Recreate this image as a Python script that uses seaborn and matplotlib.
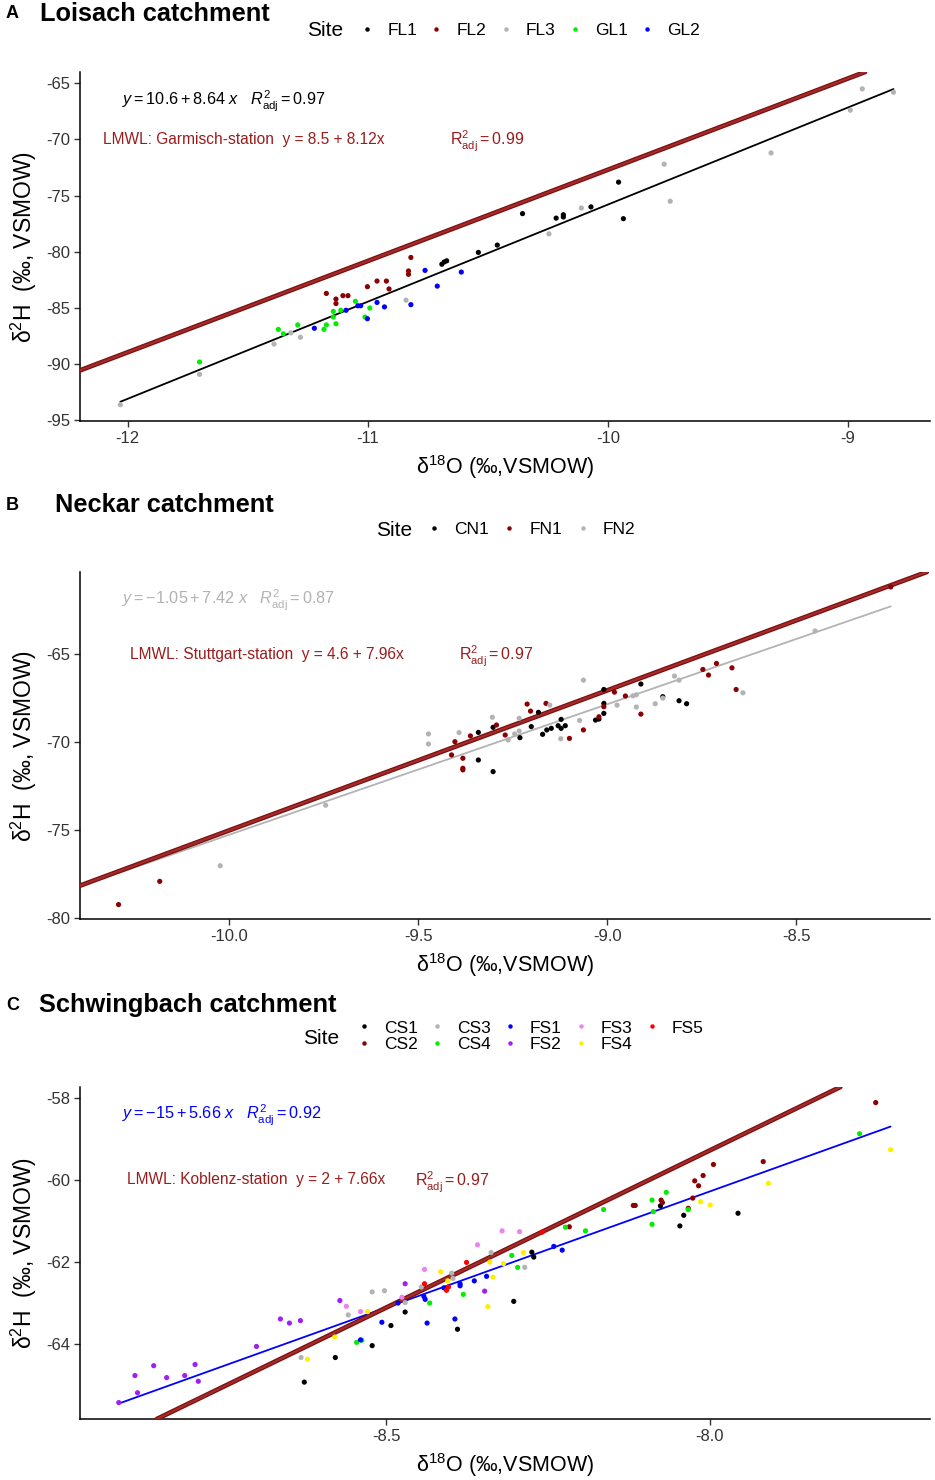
import numpy as np
import pandas as pd
import matplotlib
matplotlib.use("Agg")
import matplotlib.pyplot as plt
from matplotlib.lines import Line2D
import seaborn as sns

# ---------------- data ----------------
# Panel A: Loisach
FL1_x = [-10.691, -10.681, -10.671, -10.539, -10.460, -10.355, -10.215, -10.185, -10.185, -10.070, -9.955, -9.935]
FL1_y = [-81.1, -80.9, -80.8, -80.05, -79.4, -76.6, -77.0, -76.7, -76.9, -76.0, -73.8, -77.05]
FL2_x = [-11.172, -11.132, -11.132, -11.103, -11.082, -11.001, -10.961, -10.922, -10.911, -10.830, -10.830, -10.820]
FL2_y = [-83.7, -84.2, -84.6, -83.9, -83.9, -83.1, -82.6, -82.6, -83.3, -81.7, -82.0, -80.5]
FL3_x = [-12.03, -11.70, -11.39, -11.32, -11.28, -10.84, -10.245, -10.11, -9.765, -9.74, -9.32, -8.99, -8.94, -8.81]
FL3_y = [-93.6, -90.9, -88.2, -87.2, -87.6, -84.3, -78.4, -76.1, -72.2, -75.5, -71.2, -67.4, -65.5, -65.8]
GL1_x = [-11.70, -11.372, -11.351, -11.291, -11.182, -11.172, -11.132, -11.143, -11.143, -11.112, -11.051, -10.991, -11.011]
GL1_y = [-89.8, -86.9, -87.3, -86.5, -86.9, -86.5, -86.4, -85.3, -85.8, -85.2, -84.4, -85.0, -85.8]
GL2_x = [-11.222, -11.090, -11.041, -11.029, -11.001, -10.961, -10.930, -10.820, -10.761, -10.710, -10.610]
GL2_y = [-86.8, -85.2, -84.8, -84.8, -85.95, -84.5, -84.9, -84.7, -81.65, -83.05, -81.8]

# Panel B: Neckar
CN1_x = [-9.341, -9.341, -9.302, -9.302, -9.231, -9.201, -9.182, -9.171, -9.160, -9.148, -9.130, -9.122,
         -9.122, -9.111, -9.031, -9.022, -9.009, -9.009, -9.009, -8.911, -8.853, -8.810, -8.790]
CN1_y = [-69.43, -71.0, -69.14, -71.66, -69.73, -69.10, -68.29, -69.54, -69.29, -69.20, -69.05, -68.69,
         -69.20, -69.05, -68.73, -68.67, -68.35, -67.78, -66.99, -66.68, -67.40, -67.63, -67.80]
FN1_x = [-10.293, -10.184, -9.412, -9.403, -9.382, -9.382, -9.382, -9.362, -9.293, -9.270, -9.212, -9.203, -9.162,
         -9.100, -9.063, -9.022, -9.009, -8.981, -8.952, -8.911, -8.747, -8.732, -8.711, -8.670, -8.659, -8.250]
FN1_y = [-79.22, -77.90, -70.71, -69.96, -70.90, -71.47, -71.56, -69.63, -69.01, -69.58, -67.82, -68.22, -67.78,
         -69.77, -69.29, -68.54, -67.97, -67.14, -67.36, -68.39, -65.85, -66.17, -65.51, -65.76, -66.99, -61.16]
FN2_x = [-10.024, -9.745, -9.473, -9.473, -9.392, -9.304, -9.262, -9.245, -9.233, -9.233, -9.152, -9.123, -9.073,
         -9.063, -8.974, -8.932, -8.923, -8.923, -8.873, -8.853, -8.822, -8.810, -8.641, -8.450]
FN2_y = [-77.01, -73.57, -69.52, -70.09, -69.44, -68.57, -69.86, -69.52, -69.35, -68.63, -67.88, -69.79, -68.75,
         -66.46, -67.88, -67.35, -67.29, -67.99, -67.80, -67.48, -66.23, -66.46, -67.18, -63.66]

# Panel C: Schwingbach
CS1_x = [-8.627, -8.579, -8.522, -8.493, -8.471, -8.390, -8.303, -8.275, -8.272, -8.076, -8.046, -8.040, -7.956]
CS1_y = [-64.93, -64.33, -64.04, -63.55, -63.22, -63.64, -62.96, -61.76, -61.88, -60.63, -61.12, -60.86, -60.81]
CS2_x = [-8.217, -8.118, -8.115, -8.075, -8.073, -8.033, -8.026, -8.023, -8.017, -8.010, -7.994, -7.917, -7.743]
CS2_y = [-61.14, -60.62, -60.62, -60.49, -60.55, -60.69, -60.44, -60.02, -60.14, -59.89, -59.62, -59.55, -58.11]
CS3_x = [-8.632, -8.559, -8.522, -8.503, -8.471, -8.446, -8.399, -8.397, -8.338, -8.286]
CS3_y = [-64.33, -63.29, -62.73, -62.70, -62.99, -62.61, -62.27, -62.40, -61.77, -62.13]
CS4_x = [-8.546, -8.538, -8.433, -8.381, -8.306, -8.297, -8.223, -8.192, -8.164, -8.089, -8.089, -8.087, -8.067, -8.033, -7.768]
CS4_y = [-63.96, -63.91, -63.00, -62.79, -61.84, -62.13, -61.15, -61.24, -60.72, -60.49, -61.08, -60.77, -60.30, -60.72, -58.87]
FS1_x = [-8.540, -8.507, -8.482, -8.442, -8.440, -8.437, -8.411, -8.394, -8.386, -8.386, -8.364, -8.345, -8.241, -8.228]
FS1_y = [-63.90, -63.47, -63.00, -62.84, -62.91, -63.49, -62.63, -63.39, -62.53, -62.58, -62.46, -62.35, -61.62, -61.71]
FS2_x = [-8.914, -8.889, -8.885, -8.860, -8.840, -8.812, -8.796, -8.791, -8.701, -8.664, -8.650, -8.633, -8.572, -8.471, -8.348]
FS2_y = [-65.43, -64.77, -65.19, -64.53, -64.82, -64.77, -64.50, -64.91, -64.06, -63.39, -63.49, -63.43, -62.94, -62.53, -62.71]
FS3_x = [-8.562, -8.540, -8.476, -8.441, -8.359, -8.321, -8.294]
FS3_y = [-63.08, -63.21, -62.86, -62.18, -61.58, -61.24, -61.26]
FS4_x = [-8.622, -8.580, -8.529, -8.416, -8.405, -8.343, -8.340, -8.335, -8.319, -8.288, -8.014, -7.999, -7.909, -7.720]
FS4_y = [-64.37, -63.83, -63.21, -62.24, -62.46, -63.09, -62.00, -62.37, -62.04, -61.77, -60.53, -60.61, -60.08, -59.26]
FS5_x = [-8.441, -8.407, -8.404, -8.376, -8.259]
FS5_y = [-62.53, -62.69, -62.61, -62.01, -61.27]

# regression / LMWL coefficients (intercept, slope)
A_fit = (10.6, 8.64)
A_lmwl = (8.5, 8.12)
B_fit = (-1.05, 7.42)
B_lmwl = (4.6, 7.96)
C_fit = (-15.0, 5.66)
C_lmwl = (2.0, 7.66)

# ---------------- style ----------------
sns.set_theme(style="ticks")
plt.rcParams['font.family'] = ['Liberation Sans', 'DejaVu Sans']
plt.rcParams['mathtext.fontset'] = 'custom'
plt.rcParams['mathtext.rm'] = 'Liberation Sans'
plt.rcParams['mathtext.it'] = 'Liberation Sans:italic'
plt.rcParams['mathtext.bf'] = 'Liberation Sans:bold'
plt.rcParams['axes.unicode_minus'] = False
plt.rcParams['text.color'] = 'black'
plt.rcParams['axes.labelcolor'] = 'black'

COL = {
    'black': '#000000', 'darkred': '#8B0000', 'grey': '#B3B3B3', 'green': '#00EE00',
    'blue': '#0000FF', 'purple': '#A020F0', 'violet': '#EE82EE', 'yellow': '#FFEE00', 'red': '#FF0000',
}
LMWL_COL = '#A52A2A'
LMWL_TXT = '#9B1C1C'

W, H = 935, 1480
fig = plt.figure(figsize=(W / 100, H / 100), dpi=100)


def add_axes(left, top, right, bottom):
    return fig.add_axes([left / W, 1 - bottom / H, (right - left) / W, (bottom - top) / H])


def px(x, y):
    return x / W, 1 - y / H


def make_df(groups):
    frames = []
    for name, xs, ys in groups:
        frames.append(pd.DataFrame({'d18O': xs, 'd2H': ys, 'Site': name}))
    return pd.concat(frames, ignore_index=True)


def style_ax(ax, xlim, ylim, xticks, yticks, xfmt):
    ax.set_xlim(*xlim)
    ax.set_ylim(*ylim)
    ax.set_xticks(xticks)
    ax.set_xticklabels([xfmt.format(t) for t in xticks])
    ax.set_yticks(yticks)
    ax.set_yticklabels(['{:d}'.format(int(t)) for t in yticks])
    for s in ['top', 'right']:
        ax.spines[s].set_visible(False)
    for s in ['left', 'bottom']:
        ax.spines[s].set_color('black')
        ax.spines[s].set_linewidth(1.1)
    ax.tick_params(axis='both', direction='out', length=4, width=1, color='#333333',
                   labelsize=12, labelcolor='#333333', pad=3)
    ax.set_xlabel('δ$^{18}$O (‰,VSMOW)', fontsize=15.5, labelpad=5)
    ax.set_ylabel('δ$^{2}$H  (‰, VSMOW)', fontsize=16.5, labelpad=5)
    ax.grid(False)


def lmwl(ax, coef):
    b, m = coef
    ax.axline((0, b), slope=m, color='#7A1010', lw=3.4, zorder=3)
    ax.axline((0, b), slope=m, color=LMWL_COL, lw=1.6, zorder=3)


def fit_line(ax, coef, df, color):
    b, m = coef
    xs = np.array([df['d18O'].min(), df['d18O'].max()])
    ax.plot(xs, b + m * xs, color=color, lw=1.3, zorder=2)


def legend(entries, x_site, y_site, x0, y0, ncol, colspace):
    fig.text(*px(x_site, y_site), 'Site', fontsize=15, va='center', ha='left')
    handles = [Line2D([], [], ls='none', marker='o', markersize=3.2, markeredgewidth=0,
                      markerfacecolor=c) for _, c in entries]
    labels = [n for n, _ in entries]
    fig.legend(handles, labels, loc='center left', bbox_to_anchor=px(x0, y0), ncol=ncol,
               frameon=False, fontsize=12.5, handlelength=0.6, handletextpad=0.85,
               columnspacing=colspace, borderpad=0, borderaxespad=0, labelspacing=0.05)


# ---------------- Panel A ----------------
palA = {'FL1': COL['black'], 'FL2': COL['darkred'], 'FL3': COL['grey'], 'GL1': COL['green'], 'GL2': COL['blue']}
dfA = make_df([('FL1', FL1_x, FL1_y), ('FL2', FL2_x, FL2_y), ('FL3', FL3_x, FL3_y),
               ('GL1', GL1_x, GL1_y), ('GL2', GL2_x, GL2_y)])
axA = add_axes(80, 72, 930, 421)
lmwl(axA, A_lmwl)
fit_line(axA, A_fit, dfA, 'black')
sns.scatterplot(data=dfA, x='d18O', y='d2H', hue='Site', palette=palA, s=14, linewidth=0,
                legend=False, ax=axA, zorder=4)
style_ax(axA, (-12.198, -8.658), (-95.05, -64.0), [-12, -11, -10, -9], [-95, -90, -85, -80, -75, -70, -65], '{:g}')
axA.text(0.049, 0.915, r'$\mathit{y} = 10.6 + 8.64\ \mathit{x}\quad \mathit{R}^2_{\mathrm{adj}} = 0.97$',
         transform=axA.transAxes, fontsize=11.7, color='black', va='center')
axA.text(0.027, 0.808, 'LMWL: Garmisch-station  y = 8.5 + 8.12x', transform=axA.transAxes,
         fontsize=11.2, color=LMWL_TXT, va='center')
axA.text(0.435, 0.800, r'$\mathrm{R}^2_{\mathrm{adj}} = 0.99$', transform=axA.transAxes,
         fontsize=11.5, color=LMWL_TXT, va='center')
fig.text(*px(6, 14), 'A', fontsize=13, fontweight='bold', va='center')
fig.text(*px(40, 14), 'Loisach catchment', fontsize=18.3, fontweight='bold', va='center')
legend(list(palA.items()), 307, 31, 362, 30, 5, 0.82)

# ---------------- Panel B ----------------
palB = {'CN1': COL['black'], 'FN1': COL['darkred'], 'FN2': COL['grey']}
dfB = make_df([('CN1', CN1_x, CN1_y), ('FN1', FN1_x, FN1_y), ('FN2', FN2_x, FN2_y)])
axB = add_axes(80, 572, 930, 919)
lmwl(axB, B_lmwl)
fit_line(axB, B_fit, dfB, COL['grey'])
sns.scatterplot(data=dfB, x='d18O', y='d2H', hue='Site', palette=palB, s=14, linewidth=0,
                legend=False, ax=axB, zorder=4)
style_ax(axB, (-10.395, -8.146), (-80.04, -60.31), [-10.0, -9.5, -9.0, -8.5], [-80, -75, -70, -65], '{:.1f}')
axB.text(0.049, 0.917, r'$\mathit{y} = -1.05 + 7.42\ \mathit{x}\quad \mathit{R}^2_{\mathrm{adj}} = 0.87$',
         transform=axB.transAxes, fontsize=11.7, color=COL['grey'], va='center')
axB.text(0.059, 0.761, 'LMWL: Stuttgart-station  y = 4.6 + 7.96x', transform=axB.transAxes,
         fontsize=11.2, color=LMWL_TXT, va='center')
axB.text(0.446, 0.756, r'$\mathrm{R}^2_{\mathrm{adj}} = 0.97$', transform=axB.transAxes,
         fontsize=11.5, color=LMWL_TXT, va='center')
fig.text(*px(6, 505), 'B', fontsize=13, fontweight='bold', va='center')
fig.text(*px(55, 505), 'Neckar catchment', fontsize=18.3, fontweight='bold', va='center')
legend(list(palB.items()), 376, 530, 429, 529, 3, 0.88)

# ---------------- Panel C ----------------
palC = {'CS1': COL['black'], 'CS2': COL['darkred'], 'CS3': COL['grey'], 'CS4': COL['green'],
        'FS1': COL['blue'], 'FS2': COL['purple'], 'FS3': COL['violet'], 'FS4': COL['yellow'], 'FS5': COL['red']}
dfC = make_df([('CS1', CS1_x, CS1_y), ('CS2', CS2_x, CS2_y), ('CS3', CS3_x, CS3_y), ('CS4', CS4_x, CS4_y),
               ('FS1', FS1_x, FS1_y), ('FS2', FS2_x, FS2_y), ('FS3', FS3_x, FS3_y), ('FS4', FS4_x, FS4_y),
               ('FS5', FS5_x, FS5_y)])
axC = add_axes(80, 1087, 930, 1419)
lmwl(axC, C_lmwl)
fit_line(axC, C_fit, dfC, COL['blue'])
sns.scatterplot(data=dfC, x='d18O', y='d2H', hue='Site', palette=palC, s=14, linewidth=0,
                legend=False, ax=axC, zorder=4)
style_ax(axC, (-8.974, -7.659), (-65.83, -57.73), [-8.5, -8.0], [-64, -62, -60, -58], '{:.1f}')
axC.text(0.049, 0.914, r'$\mathit{y} = -15 + 5.66\ \mathit{x}\quad \mathit{R}^2_{\mathrm{adj}} = 0.92$',
         transform=axC.transAxes, fontsize=11.7, color=COL['blue'], va='center')
axC.text(0.055, 0.720, 'LMWL: Koblenz-station  y = 2 + 7.66x', transform=axC.transAxes,
         fontsize=11.2, color=LMWL_TXT, va='center')
axC.text(0.394, 0.712, r'$\mathrm{R}^2_{\mathrm{adj}} = 0.97$', transform=axC.transAxes,
         fontsize=11.5, color=LMWL_TXT, va='center')
fig.text(*px(6, 1005), 'C', fontsize=13, fontweight='bold', va='center')
fig.text(*px(39, 1005), 'Schwingbach catchment', fontsize=18.3, fontweight='bold', va='center')
legend(list(palC.items()), 303, 1038, 359, 1036, 5, 0.8)

fig.savefig('out.png', dpi=100)
